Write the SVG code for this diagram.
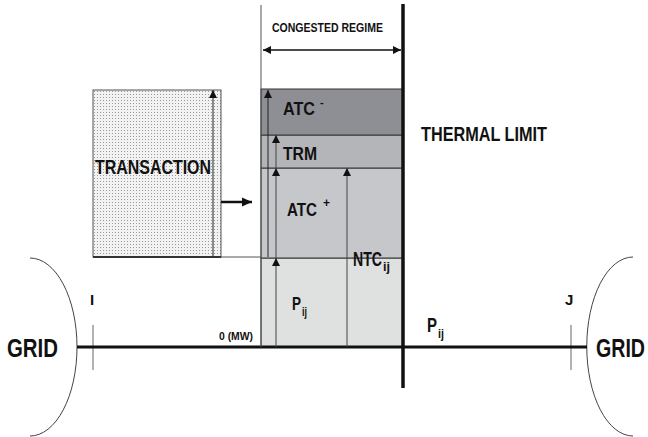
<svg xmlns="http://www.w3.org/2000/svg" width="648" height="437" viewBox="0 0 648 437">
<defs>
<style>
.t{font-family:"Liberation Sans",Arial,sans-serif;font-weight:bold;fill:#111}
.box{stroke:#333;stroke-width:1}
.thin{stroke:#444;stroke-width:1;fill:none}
.gray{stroke:#666;stroke-width:1;fill:none}
</style>
<pattern id="dots" width="3" height="3" patternUnits="userSpaceOnUse">
<rect width="3" height="3" fill="#f2f2f2"/>
<rect x="1" y="1" width="1" height="1" fill="#9a9a9a"/>
</pattern>
<marker id="ah" viewBox="0 0 8 10" refX="8" refY="5" markerWidth="8" markerHeight="10" markerUnits="userSpaceOnUse" orient="auto">
<path d="M0,1 L8,5 L0,9 Z" fill="#111"/>
</marker>
<marker id="ahs" viewBox="0 0 8 10" refX="0" refY="5" markerWidth="8" markerHeight="10" markerUnits="userSpaceOnUse" orient="auto">
<path d="M8,1 L0,5 L8,9 Z" fill="#111"/>
</marker>
<marker id="big" viewBox="0 0 10 10" refX="10" refY="5" markerWidth="10" markerHeight="10" markerUnits="userSpaceOnUse" orient="auto">
<path d="M0,0.5 L10,5 L0,9.5 Z" fill="#111"/>
</marker>
</defs>
<rect width="648" height="437" fill="#fff"/>

<g id="grid-left">
<path d="M30,258 A47,89 0 0 1 30,436" class="thin"/>
<text class="t" x="7" y="357" font-size="25" textLength="51" lengthAdjust="spacingAndGlyphs">GRID</text>
</g>
<g id="grid-right">
<path d="M633,257 A46,89 0 0 0 633,436" class="thin"/>
<text class="t" x="596" y="357" font-size="25" textLength="49" lengthAdjust="spacingAndGlyphs">GRID</text>
</g>

<g id="bus-i">
<line x1="93" y1="325" x2="93" y2="370" class="gray"/>
<text class="t" x="90" y="305" font-size="15">I</text>
</g>
<g id="bus-j">
<line x1="571" y1="325" x2="571" y2="370" class="gray"/>
<text class="t" x="565" y="305" font-size="15">J</text>
</g>

<g id="transaction">
<rect x="93" y="90" width="128" height="167" fill="url(#dots)" stroke="#555" stroke-width="1"/>
<line x1="93" y1="257" x2="221" y2="257" stroke="#333" stroke-width="2"/>
<text class="t" x="95" y="174" font-size="20" textLength="116" lengthAdjust="spacingAndGlyphs">TRANSACTION</text>
</g>

<g id="pij-box">
<rect x="261" y="258" width="142" height="89" fill="#dfe0e0" class="box"/>
<text class="t" x="292" y="310" font-size="19"><tspan textLength="9" lengthAdjust="spacingAndGlyphs">P</tspan><tspan x="302" dy="6" font-size="12" textLength="5" lengthAdjust="spacingAndGlyphs">ij</tspan></text>
</g>
<g id="atc-plus">
<rect x="261" y="168" width="142" height="90" fill="#c6c7cb" class="box"/>
<text class="t" x="287" y="216" font-size="19"><tspan textLength="30" lengthAdjust="spacingAndGlyphs">ATC</tspan><tspan x="323" dy="-9" font-size="12">+</tspan></text>
</g>
<g id="trm">
<rect x="261" y="135" width="142" height="33" fill="#b4b5b9" class="box"/>
<text class="t" x="283" y="160" font-size="19" textLength="34" lengthAdjust="spacingAndGlyphs">TRM</text>
</g>
<g id="atc-minus">
<rect x="261" y="89" width="142" height="46" fill="#8e8f94" class="box"/>
<text class="t" x="283" y="115" font-size="19"><tspan textLength="32" lengthAdjust="spacingAndGlyphs">ATC</tspan><tspan x="320" dy="-9" font-size="11">-</tspan></text>
</g>
<g id="ntc">
<text class="t" x="353" y="266" font-size="21"><tspan textLength="29" lengthAdjust="spacingAndGlyphs">NTC</tspan><tspan x="383" dy="5" font-size="13" textLength="7" lengthAdjust="spacingAndGlyphs">ij</tspan></text>
</g>

<g id="thermal-limit">
<line x1="403" y1="4" x2="403" y2="388" stroke="#111" stroke-width="3.5"/>
<text class="t" x="421" y="141" font-size="21" textLength="126" lengthAdjust="spacingAndGlyphs">THERMAL  LIMIT</text>
</g>

<g id="congested-regime">
<text class="t" x="272" y="32" font-size="13" textLength="111" lengthAdjust="spacingAndGlyphs">CONGESTED REGIME</text>
</g>

<g id="labels">
<text class="t" x="219" y="340" font-size="11" textLength="34" lengthAdjust="spacingAndGlyphs">0 (MW)</text>
<text class="t" x="427" y="332" font-size="20"><tspan textLength="10" lengthAdjust="spacingAndGlyphs">P</tspan><tspan x="438" dy="6" font-size="12" textLength="6" lengthAdjust="spacingAndGlyphs">ij</tspan></text>
</g>

<g id="connectors">
<line x1="77" y1="347" x2="587" y2="347" stroke="#111" stroke-width="3"/>
<line x1="261" y1="5" x2="261" y2="347" stroke="#555" stroke-width="1"/>
<line x1="221" y1="257" x2="261" y2="257" stroke="#555" stroke-width="1"/>
<line x1="263" y1="50" x2="401" y2="50" stroke="#111" stroke-width="1.5" marker-start="url(#ahs)" marker-end="url(#ah)"/>
<line x1="221" y1="202" x2="252" y2="202" stroke="#111" stroke-width="2.5" marker-end="url(#big)"/>
<line x1="213" y1="257" x2="213" y2="90" stroke="#222" stroke-width="1" marker-end="url(#ah)"/>
<line x1="268" y1="257" x2="268" y2="90" stroke="#222" stroke-width="1" marker-end="url(#ah)"/>
<line x1="276" y1="347" x2="276" y2="258" stroke="#444" stroke-width="1" marker-end="url(#ah)"/>
<line x1="276" y1="258" x2="276" y2="168" stroke="#444" stroke-width="1" marker-end="url(#ah)"/>
<line x1="276" y1="168" x2="276" y2="135" stroke="#444" stroke-width="1" marker-end="url(#ah)"/>
<line x1="347" y1="347" x2="347" y2="168" stroke="#444" stroke-width="1" marker-end="url(#ah)"/>
</g>
</svg>
